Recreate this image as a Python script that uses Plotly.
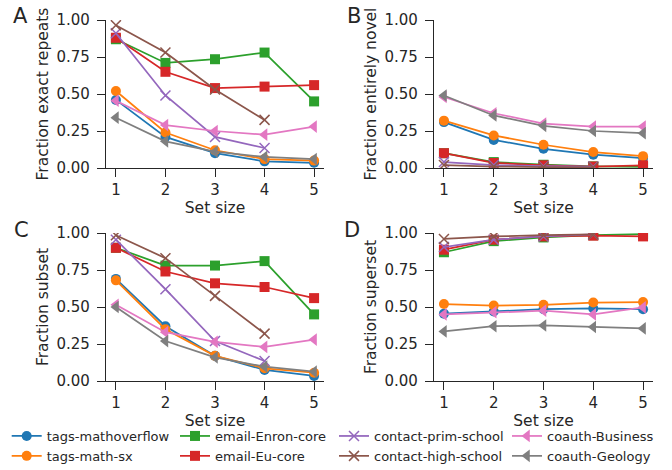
import plotly.graph_objects as go

W, H = 672, 470

set_sizes = [1, 2, 3, 4, 5]
tick_vals = [0.0, 0.25, 0.5, 0.75, 1.0]
tick_text = ["0.00", "0.25", "0.50", "0.75", "1.00"]

datasets = ["tags-mathoverflow", "tags-math-sx", "email-Enron-core", "email-Eu-core",
            "contact-prim-school", "contact-high-school", "coauth-Business", "coauth-Geology"]
colors = ["#1f77b4", "#ff7f0e", "#2ca02c", "#d62728", "#9467bd", "#8c564b", "#e377c2", "#7f7f7f"]
symbols = ["circle", "circle", "square", "square", "x-thin", "x-thin", "triangle-left", "triangle-left"]
legend_cols = ["legend", "legend", "legend2", "legend2", "legend3", "legend3", "legend4", "legend4"]

# Panel A: fraction exact repeats
exact_repeats = {
    "tags-mathoverflow": [0.46, 0.21, 0.10, 0.045, 0.035],
    "tags-math-sx": [0.52, 0.24, 0.12, 0.06, 0.05],
    "email-Enron-core": [0.87, 0.71, 0.735, 0.78, 0.45],
    "email-Eu-core": [0.88, 0.65, 0.54, 0.55, 0.56],
    "contact-prim-school": [0.91, 0.49, 0.21, 0.135],
    "contact-high-school": [0.965, 0.78, 0.53, 0.325],
    "coauth-Business": [0.455, 0.29, 0.25, 0.225, 0.28],
    "coauth-Geology": [0.34, 0.18, 0.11, 0.075, 0.06],
}
# Panel B: fraction entirely novel
entirely_novel = {
    "tags-mathoverflow": [0.31, 0.19, 0.13, 0.09, 0.067],
    "tags-math-sx": [0.32, 0.22, 0.157, 0.108, 0.08],
    "email-Enron-core": [0.10, 0.04, 0.022, 0.011, 0.007],
    "email-Eu-core": [0.10, 0.034, 0.018, 0.01, 0.018],
    "contact-prim-school": [0.04, 0.02, 0.012, 0.01],
    "contact-high-school": [0.02, 0.01, 0.006, 0.005],
    "coauth-Business": [0.48, 0.37, 0.30, 0.28, 0.28],
    "coauth-Geology": [0.49, 0.355, 0.285, 0.25, 0.235],
}
# Panel C: fraction subset
subset = {
    "tags-mathoverflow": [0.69, 0.37, 0.17, 0.075, 0.034],
    "tags-math-sx": [0.68, 0.35, 0.17, 0.086, 0.056],
    "email-Enron-core": [0.90, 0.78, 0.78, 0.81, 0.45],
    "email-Eu-core": [0.90, 0.74, 0.66, 0.635, 0.56],
    "contact-prim-school": [0.955, 0.62, 0.27, 0.135],
    "contact-high-school": [0.985, 0.83, 0.575, 0.32],
    "coauth-Business": [0.515, 0.33, 0.265, 0.23, 0.28],
    "coauth-Geology": [0.50, 0.27, 0.16, 0.097, 0.063],
}
# Panel D: fraction superset
superset = {
    "tags-mathoverflow": [0.455, 0.47, 0.485, 0.49, 0.485],
    "tags-math-sx": [0.52, 0.51, 0.515, 0.53, 0.533],
    "email-Enron-core": [0.87, 0.945, 0.97, 0.985, 0.993],
    "email-Eu-core": [0.887, 0.955, 0.977, 0.982, 0.977],
    "contact-prim-school": [0.905, 0.955, 0.977, 0.99],
    "contact-high-school": [0.96, 0.977, 0.985, 0.99],
    "coauth-Business": [0.45, 0.465, 0.475, 0.45, 0.497],
    "coauth-Geology": [0.335, 0.37, 0.375, 0.365, 0.355],
}

panels = [
    ("A", exact_repeats, "Fraction exact repeats", "x", "y"),
    ("B", entirely_novel, "Fraction entirely novel", "x2", "y2"),
    ("C", subset, "Fraction subset", "x3", "y3"),
    ("D", superset, "Fraction superset", "x4", "y4"),
]

# pixel boxes (left, top, right, bottom)
boxes = {
    "A": (106, 20, 324, 168),
    "B": (434, 20, 653, 168),
    "C": (106, 233, 324, 381),
    "D": (434, 233, 653, 381),
}
label_pos = {"A": (20.5, 16), "B": (353.5, 16), "C": (21, 229.5), "D": (352, 229.5)}

FONT = "DejaVu Sans"
DARK = "#262626"
SPINE2 = "#707070"
fig = go.Figure()

for pi, (lab, data, ytitle, xa, ya) in enumerate(panels):
    for i, name in enumerate(datasets):
        vals = data[name]
        sym = symbols[i]
        if sym == "x-thin":
            marker = dict(symbol=sym, size=10, color=colors[i], line=dict(color=colors[i], width=1.5))
        elif sym == "triangle-left":
            marker = dict(symbol=sym, size=11, color=colors[i], line=dict(width=0))
        else:
            marker = dict(symbol=sym, size=10, color=colors[i], line=dict(width=0))
        fig.add_trace(go.Scatter(
            x=set_sizes[:len(vals)], y=vals, mode="lines+markers", name=name,
            line=dict(color=colors[i], width=1.75), marker=marker,
            xaxis=xa, yaxis=ya, showlegend=(pi == 0), legend=legend_cols[i],
        ))

axis_common = dict(
    showgrid=False, zeroline=False, showline=True, mirror=False,
    linecolor=DARK, linewidth=1.3, ticks="outside", ticklen=8, tickwidth=1.3,
    tickcolor=DARK, tickfont=dict(family=FONT, size=15, color=DARK),
)
spine_common = dict(showgrid=False, zeroline=False, showline=True, linecolor=SPINE2,
                    linewidth=1.2, ticks="", showticklabels=False)

layout = dict(width=W, height=H, margin=dict(l=0, r=0, t=0, b=0, autoexpand=False),
              paper_bgcolor="white", plot_bgcolor="white",
              font=dict(family=FONT, color=DARK))

for pi, (lab, data, ytitle, xa, ya) in enumerate(panels):
    l, t, r, b = boxes[lab]
    xk = "xaxis" + ("" if pi == 0 else str(pi + 1))
    yk = "yaxis" + ("" if pi == 0 else str(pi + 1))
    xdom = [l / W, r / W]
    ydom = [1 - b / H, 1 - t / H]
    layout[xk] = dict(axis_common, domain=xdom, range=[0.8, 5.2],
                      tickvals=set_sizes, anchor=ya,
                      title=dict(text="Set size", font=dict(family=FONT, size=15.5, color=DARK), standoff=1),
                      ticklabelstandoff=0)
    layout[yk] = dict(axis_common, domain=ydom, range=[0, 1],
                      tickvals=tick_vals, ticktext=tick_text, anchor=xa,
                      title=dict(text=ytitle, font=dict(family=FONT, size=15.5, color=DARK), standoff=4),
                      ticklabelstandoff=4)
    # top and right spines (lighter)
    n = pi + 5
    layout["xaxis%d" % n] = dict(spine_common, domain=xdom, range=[0.8, 5.2], overlaying=xa,
                                 side="top", anchor=ya)
    layout["yaxis%d" % n] = dict(spine_common, domain=ydom, range=[0, 1], overlaying=ya,
                                 side="right", anchor=xa)

fig.update_layout(**layout)

for lab, (px, py) in label_pos.items():
    fig.add_annotation(text=lab, x=px / W, y=1 - py / H, xref="paper", yref="paper",
                       showarrow=False, xanchor="center", yanchor="middle",
                       font=dict(family=FONT, size=21, color=DARK))

legend_x = [6.7, 175, 334, 507]
legend_top = 421
for k, lx in zip(["legend", "legend2", "legend3", "legend4"], legend_x):
    fig.update_layout(**{k: dict(x=lx / W, y=1 - legend_top / H, xanchor="left", yanchor="top",
                                 orientation="v", bgcolor="rgba(0,0,0,0)", itemwidth=30,
                                 font=dict(family=FONT, size=13, color=DARK))})

fig.write_html("out.html", config={"displayModeBar": False},
               post_script="document.body.style.margin='0';")
